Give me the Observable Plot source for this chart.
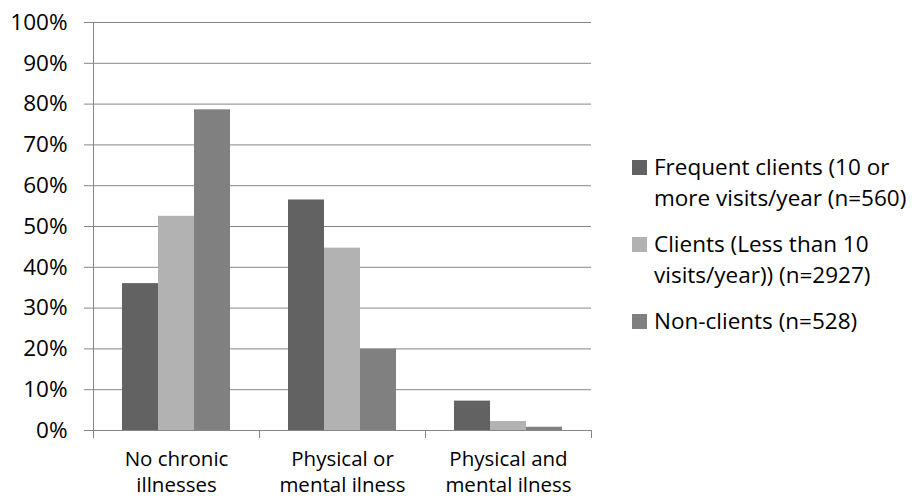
<!DOCTYPE html>
<html>
<head>
<meta charset="utf-8">
<script src="https://cdn.jsdelivr.net/npm/d3@7"></script>
<script src="https://cdn.jsdelivr.net/npm/@observablehq/plot@0.6"></script>
<style>
  html, body { margin: 0; padding: 0; background: #fff; }
  #wrap { position: relative; width: 919px; height: 504px; font-family: "Open Sans", sans-serif; }
  #chart svg { display: block; }
  #chart svg g[aria-label="y-axis tick label"] { fill: #000; }
  #legend { position: absolute; left: 632px; top: 152px; font-size: 22.5px; line-height: 30.6px; color: #000; }
  .item { display: flex; align-items: flex-start; margin-bottom: 15.8px; }
  .sw { width: 15px; height: 15px; margin-top: 8px; margin-right: 7px; flex: none; }
  .lab { white-space: pre; }
</style>
</head>
<body>
<div id="wrap">
  <div id="chart"></div>
  <div id="legend"></div>
</div>
<script>
// ---- data ----
const categories = ["No chronic illnesses", "Physical or mental ilness", "Physical and mental ilness"];
const categoryLabels = ["No chronic\nillnesses", "Physical or\nmental ilness", "Physical and\nmental ilness"];
const series = [
  "Frequent clients (10 or more visits/year (n=560)",
  "Clients (Less than 10 visits/year)) (n=2927)",
  "Non-clients (n=528)"
];
const legendLabels = [
  "Frequent clients (10 or\nmore visits/year (n=560)",
  "Clients (Less than 10\nvisits/year)) (n=2927)",
  "Non-clients (n=528)"
];
const frequentClients = [0.36, 0.565, 0.072];
const clients = [0.525, 0.447, 0.022];
const nonClients = [0.786, 0.199, 0.008];
const colors = ["#626262", "#b2b2b2", "#808080"];
const yTicks = [0, 0.1, 0.2, 0.3, 0.4, 0.5, 0.6, 0.7, 0.8, 0.9, 1.0];

const seriesValues = [frequentClients, clients, nonClients];
const rows = [];
categories.forEach((c, i) => series.forEach((s, j) => rows.push({category: c, series: s, value: seriesValues[j][i]})));
const labelOf = new Map(categories.map((c, i) => [c, categoryLabels[i]]));

const chart = Plot.plot({
  width: 919,
  height: 504,
  marginLeft: 93,
  marginRight: 328,
  marginTop: 22,
  marginBottom: 74,
  style: {fontFamily: "Open Sans", fontSize: "22.5px", color: "#868686", background: "#fff"},
  fx: {domain: categories, padding: 0, label: null},
  x: {domain: series, paddingInner: 0, paddingOuter: 0.76, axis: null},
  y: {domain: [0, 1], ticks: yTicks, tickFormat: d3.format(".0%"), tickSize: 9, tickPadding: 17, line: true, label: null},
  color: {domain: series, range: colors},
  marks: [
    Plot.gridY(yTicks, {stroke: "#868686", strokeOpacity: 1}),
    Plot.barY(rows, {fx: "category", x: "series", y: "value", fill: "series"}),
    Plot.axisFx({anchor: "bottom", tickSize: 0, tickPadding: 17, tickFormat: d => labelOf.get(d), fontSize: 20.5, lineHeight: 1.28, fill: "#000", label: null})
  ]
});
document.getElementById("chart").appendChild(chart);

// category boundary ticks on the x axis, positioned from Plot's own scales
const fxs = chart.scale("fx");
const ys = chart.scale("y");
const r0 = fxs.range[0], r1 = fxs.range[1];
const step = (r1 - r0) / fxs.domain.length;
const y0 = ys.apply ? ys.apply(0) : ys.range[0];
d3.select(chart).append("g")
  .attr("stroke", "#868686")
  .selectAll("line")
  .data(d3.range(fxs.domain.length + 1))
  .join("line")
  .attr("x1", i => r0 + i * step + 0.5)
  .attr("x2", i => r0 + i * step + 0.5)
  .attr("y1", y0)
  .attr("y2", y0 + 8);

// legend
const legend = d3.select("#legend");
series.forEach((s, i) => {
  const it = legend.append("div").attr("class", "item");
  it.append("div").attr("class", "sw").style("background", colors[i]);
  it.append("div").attr("class", "lab").text(legendLabels[i]);
});
</script>
</body>
</html>
